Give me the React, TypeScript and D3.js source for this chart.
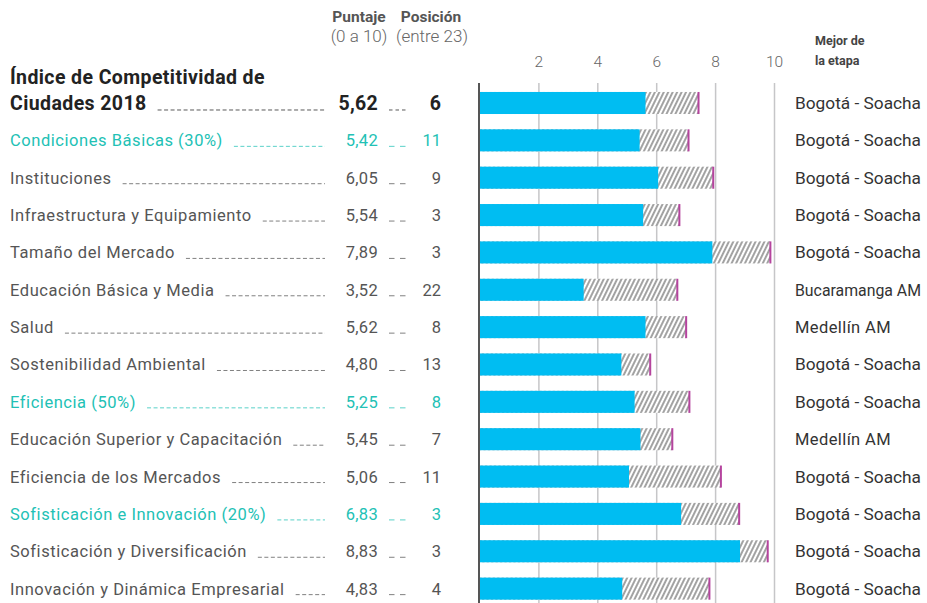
import React, { useEffect, useRef } from "react";
import * as d3 from "d3";

const categories = [
  "Índice de Competitividad de|Ciudades 2018",
  "Condiciones Básicas (30%)",
  "Instituciones",
  "Infraestructura y Equipamiento",
  "Tamaño del Mercado",
  "Educación Básica y Media",
  "Salud",
  "Sostenibilidad Ambiental",
  "Eficiencia (50%)",
  "Educación Superior y Capacitación",
  "Eficiencia de los Mercados",
  "Sofisticación e Innovación (20%)",
  "Sofisticación y Diversificación",
  "Innovación y Dinámica Empresarial",
];
const levels = ["total", "pillar", "factor", "factor", "factor", "factor", "factor", "factor", "pillar", "factor", "factor", "pillar", "factor", "factor"];
const scores = [5.62, 5.42, 6.05, 5.54, 7.89, 3.52, 5.62, 4.8, 5.25, 5.45, 5.06, 6.83, 8.83, 4.83];
const positions = [6, 11, 9, 3, 3, 22, 8, 13, 8, 7, 11, 3, 3, 4];
const bestValues = [7.42, 7.08, 7.92, 6.77, 9.86, 6.7, 7.0, 5.78, 7.11, 6.53, 8.18, 8.8, 9.77, 7.79];
const bestNames = [
  "Bogotá - Soacha", "Bogotá - Soacha", "Bogotá - Soacha", "Bogotá - Soacha", "Bogotá - Soacha",
  "Bucaramanga AM", "Medellín AM", "Bogotá - Soacha", "Bogotá - Soacha", "Medellín AM",
  "Bogotá - Soacha", "Bogotá - Soacha", "Bogotá - Soacha", "Bogotá - Soacha",
];
const ticks = [2, 4, 6, 8, 10];

const W = 927;
const H = 603;
const FONT = "Roboto, 'Noto Sans', sans-serif";

export default function App() {
  const ref = useRef<SVGSVGElement>(null);

  useEffect(() => {
    const svg = d3.select(ref.current);
    svg.selectAll("*").remove();

    const x = d3.scaleLinear().domain([0, 10]).range([480, 774.5]);
    const y = d3
      .scaleBand<number>()
      .domain(d3.range(categories.length))
      .range([84.5, 84.5 + 37.33 * categories.length])
      .paddingInner(0.41)
      .paddingOuter(0.2);

    const defs = svg.append("defs");
    const pat = defs
      .append("pattern")
      .attr("id", "hatch")
      .attr("patternUnits", "userSpaceOnUse")
      .attr("width", 4)
      .attr("height", 4)
      .attr("patternTransform", "rotate(26)");
    pat.append("rect").attr("width", 4).attr("height", 4).attr("fill", "#ffffff");
    pat.append("line").attr("x1", 1).attr("x2", 1).attr("y1", 0).attr("y2", 4).attr("stroke", "#7b7b7b").attr("stroke-width", 1.4);

    // header
    const header = svg.append("g").attr("font-family", FONT);
    header.append("text").attr("x", 359).attr("y", 22).attr("text-anchor", "middle").attr("font-weight", 700).attr("font-size", 15.5).attr("fill", "#555").text("Puntaje");
    header.append("text").attr("x", 359).attr("y", 42).attr("text-anchor", "middle").attr("font-weight", 300).attr("font-size", 17).attr("fill", "#666").text("(0 a 10)");
    header.append("text").attr("x", 431).attr("y", 22).attr("text-anchor", "middle").attr("font-weight", 700).attr("font-size", 15.5).attr("fill", "#555").text("Posición");
    header.append("text").attr("x", 432).attr("y", 42).attr("text-anchor", "middle").attr("font-weight", 300).attr("font-size", 17).attr("fill", "#666").text("(entre 23)");
    header.append("text").attr("x", 815).attr("y", 45).attr("font-weight", 700).attr("font-size", 12.5).attr("fill", "#444").text("Mejor de");
    header.append("text").attr("x", 815).attr("y", 65).attr("font-weight", 700).attr("font-size", 12.5).attr("fill", "#444").text("la etapa");

    // grid
    const grid = svg.append("g");
    grid
      .selectAll("line")
      .data(ticks)
      .join("line")
      .attr("x1", (d) => x(d))
      .attr("x2", (d) => x(d))
      .attr("y1", 83)
      .attr("y2", H)
      .attr("stroke", "#c6c6c8")
      .attr("stroke-width", 1.5);
    grid
      .selectAll("text")
      .data(ticks)
      .join("text")
      .attr("x", (d) => x(d))
      .attr("y", 67)
      .attr("text-anchor", "middle")
      .attr("font-family", FONT)
      .attr("font-weight", 300)
      .attr("font-size", 15.5)
      .attr("fill", "#666")
      .text((d) => String(d));

    // bars
    const bars = svg.append("g");
    const idx = d3.range(categories.length);
    bars
      .selectAll("rect.best")
      .data(idx)
      .join("rect")
      .attr("class", "best")
      .attr("x", x(0))
      .attr("y", (i) => y(i)!)
      .attr("width", (i) => x(bestValues[i]) - x(0))
      .attr("height", y.bandwidth())
      .attr("fill", "url(#hatch)");
    bars
      .selectAll("rect.score")
      .data(idx)
      .join("rect")
      .attr("class", "score")
      .attr("x", x(0))
      .attr("y", (i) => y(i)!)
      .attr("width", (i) => x(scores[i]) - x(0))
      .attr("height", y.bandwidth())
      .attr("fill", "#00bdf2");
    bars
      .selectAll("rect.mark")
      .data(idx)
      .join("rect")
      .attr("class", "mark")
      .attr("x", (i) => x(bestValues[i]) - 1)
      .attr("y", (i) => y(i)!)
      .attr("width", 2)
      .attr("height", y.bandwidth())
      .attr("fill", "#b5449e");

    // axis line
    svg.append("line").attr("x1", 479).attr("x2", 479).attr("y1", 83).attr("y2", H).attr("stroke", "#555").attr("stroke-width", 2);

    // labels
    const colorFor = (lvl: string) => (lvl === "total" ? "#222" : lvl === "pillar" ? "#22c1b5" : "#555");
    const labels = svg.append("g").attr("font-family", FONT);
    idx.forEach((i) => {
      const cy = y(i)! + y.bandwidth() / 2;
      const lvl = levels[i];
      const col = colorFor(lvl);
      const isTotal = lvl === "total";
      const fs = isTotal ? 19.5 : 16.5;
      const fw = isTotal ? 700 : 400;
      const baseline = cy + (isTotal ? 7 : 6);
      const parts = categories[i].split("|");
      let lastText: SVGTextElement | null = null;
      parts.forEach((p, k) => {
        const t = labels
          .append("text")
          .attr("x", 10)
          .attr("y", baseline - (parts.length - 1 - k) * 26)
          .attr("font-size", fs)
          .attr("font-weight", fw)
          .attr("fill", col)
          .attr("letter-spacing", isTotal ? 0.4 : 0.55)
          .text(p);
        lastText = t.node();
      });
      const endX = 10 + (lastText ? (lastText as SVGTextElement).getComputedTextLength() : 0) + 11;
      labels
        .append("line")
        .attr("x1", endX)
        .attr("x2", 325)
        .attr("y1", baseline)
        .attr("y2", baseline)
        .attr("stroke", col)
        .attr("stroke-opacity", 0.75)
        .attr("stroke-width", 1)
        .attr("stroke-dasharray", "4 2.5");
      labels
        .append("text")
        .attr("x", 378)
        .attr("y", baseline)
        .attr("text-anchor", "end")
        .attr("font-size", fs)
        .attr("font-weight", fw)
        .attr("fill", col)
        .attr("letter-spacing", 0.3)
        .text(scores[i].toFixed(2).replace(".", ","));
      labels
        .append("line")
        .attr("x1", 389)
        .attr("x2", 406)
        .attr("y1", baseline)
        .attr("y2", baseline)
        .attr("stroke", col)
        .attr("stroke-opacity", 0.75)
        .attr("stroke-width", 1)
        .attr("stroke-dasharray", isTotal ? "3.5 3" : "5.5 5.5");
      labels
        .append("text")
        .attr("x", 441)
        .attr("y", baseline)
        .attr("text-anchor", "end")
        .attr("font-size", fs)
        .attr("font-weight", fw)
        .attr("fill", col)
        .text(String(positions[i]));
      const bt = labels
        .append("text")
        .attr("x", 795)
        .attr("y", cy + 6)
        .attr("font-size", 16.5)
        .attr("fill", "#333")
        .attr("letter-spacing", 0.4)
        .text(bestNames[i]);
      const bn = bt.node();
      if (bn && bn.getComputedTextLength() > 126) {
        bt.attr("letter-spacing", 0).attr("textLength", 126).attr("lengthAdjust", "spacingAndGlyphs");
      }
    });
  }, []);

  return (
    <svg
      ref={ref}
      width={W}
      height={H}
      style={{ position: "absolute", left: 0, top: 0, background: "#fff" }}
    />
  );
}
